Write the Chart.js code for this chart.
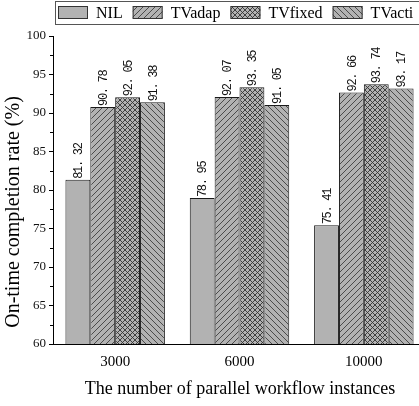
<!DOCTYPE html>
<html>
<head>
<meta charset="utf-8">
<script src="https://cdn.jsdelivr.net/npm/chart.js@4/dist/chart.umd.min.js"></script>
<style>
  html, body { margin: 0; padding: 0; background: #fff; overflow: hidden; }
  #wrap { width: 426px; height: 406px; position: relative; }
</style>
</head>
<body>
<div id="wrap"><canvas id="c" width="426" height="406"></canvas></div>
<script>
const categories = ['3000', '6000', '10000'];
const seriesNames = ['NIL', 'TVadap', 'TVfixed', 'TVacti'];
const nilValues = [81.32, 78.95, 75.41];
const tvAdapValues = [90.78, 92.07, 92.66];
const tvFixedValues = [92.05, 93.35, 93.74];
const tvActiValues = [91.38, 91.05, 93.17];
const yMin = 60, yMax = 100, yStep = 5;
const xTitle = 'The number of parallel workflow instances';
const yTitle = 'On-time completion rate (%)';

const FILL = '#b2b2b2';
const LINE = '#404040';

function makePattern(kind) {
  const s = kind === 'cross' ? 5 : 6;
  const c = document.createElement('canvas');
  c.width = s; c.height = s;
  const g = c.getContext('2d');
  g.fillStyle = FILL; g.fillRect(0, 0, s, s);
  if (kind === 'none') return g.createPattern(c, 'repeat');
  g.strokeStyle = kind === 'cross' ? '#333' : LINE;
  g.lineWidth = 0.9;
  const fwd = () => {
    g.beginPath();
    g.moveTo(-1, s + 1); g.lineTo(s + 1, -1);
    g.moveTo(-1, 1); g.lineTo(1, -1);
    g.moveTo(s - 1, s + 1); g.lineTo(s + 1, s - 1);
    g.stroke();
  };
  const back = () => {
    g.beginPath();
    g.moveTo(-1, -1); g.lineTo(s + 1, s + 1);
    g.moveTo(s - 1, -1); g.lineTo(s + 1, 1);
    g.moveTo(-1, s - 1); g.lineTo(1, s + 1);
    g.stroke();
  };
  if (kind === 'fwd') fwd();
  if (kind === 'back') back();
  if (kind === 'cross') { fwd(); back(); }
  return g.createPattern(c, 'repeat');
}

const fills = [makePattern('none'), makePattern('fwd'), makePattern('cross'), makePattern('back')];
const valueSets = [nilValues, tvAdapValues, tvFixedValues, tvActiValues];

const datasets = seriesNames.map((name, i) => ({
  label: name,
  data: valueSets[i],
  backgroundColor: fills[i],
  borderColor: '#1a1a1a',
  borderWidth: 1,
  borderSkipped: 'bottom',
  categoryPercentage: 0.8,
  barPercentage: 1.0
}));

const decoPlugin = {
  id: 'deco',
  afterDatasetsDraw(chart) {
    const ctx = chart.ctx;
    ctx.save();
    ctx.fillStyle = '#111';
    ctx.font = '12px "Liberation Mono", monospace';
    try { ctx.letterSpacing = '-1.3px'; } catch (e) {}
    chart.data.datasets.forEach((ds, di) => {
      const meta = chart.getDatasetMeta(di);
      meta.data.forEach((el, i) => {
        const txt = ds.data[i].toFixed(2).replace('.', '. ');
        ctx.save();
        ctx.translate(el.x + 1, el.y - 1);
        ctx.rotate(-Math.PI / 2);
        ctx.textAlign = 'left';
        ctx.textBaseline = 'middle';
        ctx.fillText(txt, 0, 0);
        ctx.restore();
      });
    });
    ctx.restore();
  },
  afterDraw(chart) {
    const ctx = chart.ctx;
    const y = chart.scales.y;
    const area = chart.chartArea;
    ctx.save();
    ctx.strokeStyle = '#000';
    ctx.lineWidth = 1;
    ctx.beginPath();
    for (let v = yMin + yStep / 2; v < yMax; v += yStep) {
      const py = Math.round(y.getPixelForValue(v)) + 0.5;
      ctx.moveTo(area.left - 3, py);
      ctx.lineTo(area.left, py);
    }
    ctx.stroke();
    ctx.restore();

    ctx.save();
    ctx.fillStyle = '#000';
    ctx.textAlign = 'center';
    ctx.textBaseline = 'middle';
    ctx.font = '18px "Liberation Serif", serif';
    ctx.fillText(xTitle, 240, 389);
    ctx.font = '20px "Liberation Serif", serif';
    ctx.translate(14, 212);
    ctx.rotate(-Math.PI / 2);
    ctx.fillText(yTitle, 0, 0);
    ctx.restore();

    ctx.save();
    ctx.strokeStyle = '#555';
    ctx.lineWidth = 1;
    ctx.strokeRect(55.5, 1.5, 400, 23);
    ctx.font = '16px "Liberation Serif", serif';
    ctx.textBaseline = 'middle';
    ctx.textAlign = 'left';
    let x = 58;
    chart.data.datasets.forEach((ds) => {
      ctx.fillStyle = ds.backgroundColor;
      ctx.fillRect(x, 6, 30, 13);
      ctx.strokeStyle = '#333';
      ctx.strokeRect(x + 0.5, 6.5, 29, 12);
      ctx.fillStyle = '#000';
      const tx = x + 38;
      ctx.fillText(ds.label, tx, 13.5);
      x = tx + ctx.measureText(ds.label).width + 10;
    });
    ctx.restore();
  }
};

new Chart(document.getElementById('c'), {
  type: 'bar',
  data: { labels: categories, datasets },
  plugins: [decoPlugin],
  options: {
    responsive: false,
    animation: false,
    layout: { padding: { top: 36, left: 0, right: 0, bottom: 0 } },
    plugins: { legend: { display: false }, tooltip: { enabled: false } },
    scales: {
      x: {
        grid: { display: false, drawTicks: false },
        border: { display: true, color: '#000', width: 1 },
        ticks: { color: '#000', font: { family: '"Liberation Serif", serif', size: 15 }, padding: 9 },
        afterFit(s) { s.height = 62; }
      },
      y: {
        min: yMin, max: yMax,
        grid: { drawOnChartArea: false, tickLength: 4, color: '#000' },
        border: { display: true, color: '#000', width: 1 },
        ticks: { stepSize: yStep, color: '#111', padding: 3, font: { family: '"Liberation Serif", serif', size: 13 } },
        afterFit(s) { s.width = 53; }
      }
    }
  }
});
</script>
</body>
</html>
